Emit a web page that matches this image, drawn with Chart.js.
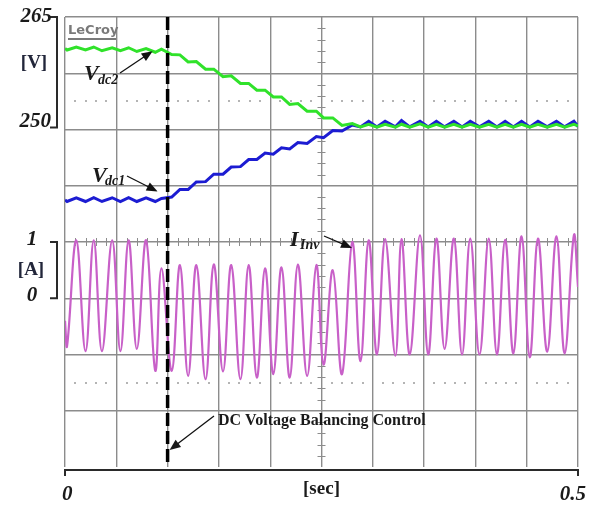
<!DOCTYPE html>
<html>
<head>
<meta charset="utf-8">
<script src="https://cdn.jsdelivr.net/npm/chart.js@4/dist/chart.umd.min.js"></script>
<style>
  html, body { margin: 0; padding: 0; background: #fff; }
  #wrap { width: 590px; height: 505px; position: relative; }
</style>
</head>
<body>
<div id="wrap"><canvas id="scope"></canvas></div>
<script>
// time [s] of each sample (current extremes)
const t = [0, 0.002, 0.011, 0.020, 0.028, 0.036, 0.046, 0.054, 0.062, 0.070, 0.079,
  0.088, 0.094, 0.104, 0.112, 0.120, 0.128, 0.137, 0.145, 0.154, 0.162,
  0.171, 0.179, 0.187, 0.195, 0.203, 0.211, 0.219, 0.227, 0.236, 0.245,
  0.252, 0.261, 0.270, 0.280, 0.288, 0.296, 0.304, 0.312, 0.322, 0.328,
  0.336, 0.346, 0.354, 0.362, 0.370, 0.379, 0.387, 0.395, 0.404, 0.413,
  0.421, 0.429, 0.437, 0.445, 0.453, 0.461, 0.470, 0.479, 0.487, 0.496, 0.5];

// inverter current [A]
const iInv = [-0.4, -0.85, 1.03, -0.94, 1.03, -0.94, 1.03, -0.94, 1.03, -0.9, 1.03,
  -1.29, 0.53, -1.29, 0.59, -1.38, 0.59, -1.44, 0.6, -1.3, 0.59,
  -1.44, 0.59, -1.41, 0.53, -1.35, 0.55, -1.41, 0.6, -1.38, 0.59,
  -1.18, 0.5, -1.35, 1.0, -1.12, 1.03, -1.0, 1.05, -1.02, 1.05,
  -1.0, 1.12, -1.0, 1.06, -0.9, 1.06, -1.0, 1.06, -1.0, 1.06,
  -1.0, 1.04, -0.98, 1.1, -1.05, 1.06, -0.95, 1.1, -0.98, 1.12, 0.2];

// dc link voltages [V]
const vdc2 = [260.8, 260.6, 261.0, 260.6, 261.0, 260.5, 260.9, 260.5, 260.9, 260.4, 260.8,
  260.3, 260.7, 260.0, 259.95, 259.0, 259.05, 258.05, 258.05, 257.05, 257.15,
  256.15, 256.15, 255.25, 255.25, 254.35, 254.35, 253.35, 253.45, 252.45, 252.45,
  251.55, 251.55, 250.55, 250.8, 250.35, 250.7, 250.3, 250.7, 250.3, 250.7,
  250.3, 250.75, 250.3, 250.7, 250.3, 250.7, 250.3, 250.7, 250.3, 250.7,
  250.3, 250.7, 250.3, 250.7, 250.3, 250.7, 250.3, 250.7, 250.3, 250.7, 250.5];

const vdc1 = [240.6, 240.4, 240.9, 240.4, 240.9, 240.4, 240.9, 240.4, 240.9, 240.4, 240.9,
  240.4, 240.8, 241.0, 242.0, 242.0, 243.0, 243.05, 244.05, 244.05, 245.0,
  245.05, 246.0, 246.0, 246.85, 246.7, 247.55, 247.4, 248.25, 248.15, 249.05,
  248.9, 249.85, 249.8, 250.6, 250.35, 251.1, 250.35, 251.1, 250.35, 251.2,
  250.35, 251.1, 250.35, 251.1, 250.35, 251.1, 250.35, 251.1, 250.35, 251.1,
  250.35, 251.1, 250.35, 251.1, 250.35, 251.1, 250.35, 251.1, 250.35, 251.1, 250.4];

// axis labels
const voltTicks = [265, 250];
const currTicks = [1, 0];
const timeTicks = [0, 0.5];
const tControl = 0.1;  // balancing control switched on

const GRID = '#8c8c8c';
const SERIF = '"Liberation Serif", "DejaVu Serif", serif';

function arrow(ctx, x1, y1, x2, y2) {
    const a = Math.atan2(y2 - y1, x2 - x1);
    ctx.beginPath();
    ctx.moveTo(x1, y1);
    ctx.lineTo(x2 - 6 * Math.cos(a), y2 - 6 * Math.sin(a));
    ctx.stroke();
    ctx.beginPath();
    ctx.moveTo(x2, y2);
    ctx.lineTo(x2 - 11 * Math.cos(a) + 4.5 * Math.sin(a), y2 - 11 * Math.sin(a) - 4.5 * Math.cos(a));
    ctx.lineTo(x2 - 11 * Math.cos(a) - 4.5 * Math.sin(a), y2 - 11 * Math.sin(a) + 4.5 * Math.cos(a));
    ctx.closePath();
    ctx.fill();
}

const scopeDecor = {
    id: 'scopeDecor',
    beforeDatasetsDraw(chart) {
        const { ctx, chartArea: a, scales } = chart;
        const xs = scales.x, yv = scales.yV;
        ctx.save();
        // dotted reference lines
        ctx.fillStyle = '#b4b4b4';
        [253.75, 216.25].forEach(v => {
            const y = Math.round(yv.getPixelForValue(v));
            for (let k = 1; k < 50; k++) {
                if (k % 5 === 0) continue;
                ctx.fillRect(Math.round(xs.getPixelForValue(k * 0.01)) - 1, y - 1, 2, 2);
            }
        });
        // minor ticks on the centre cross
        ctx.strokeStyle = GRID;
        ctx.lineWidth = 1;
        const cx = xs.getPixelForValue(0.25), cy = yv.getPixelForValue(235);
        ctx.beginPath();
        for (let k = 1; k < 40; k++) {
            if (k % 5 === 0) continue;
            const y = Math.round(yv.getPixelForValue(205 + k * 1.5)) + 0.5;
            ctx.moveTo(cx - 4, y); ctx.lineTo(cx + 4, y);
        }
        for (let k = 1; k < 50; k++) {
            if (k % 5 === 0) continue;
            const x = Math.round(xs.getPixelForValue(k * 0.01)) + 0.5;
            ctx.moveTo(x, cy - 4); ctx.lineTo(x, cy + 4);
        }
        ctx.stroke();
        // LeCroy logo
        ctx.fillStyle = '#7a7a7a';
        ctx.font = 'bold 13px "DejaVu Sans", sans-serif';
        ctx.textAlign = 'left';
        ctx.textBaseline = 'alphabetic';
        ctx.fillText('LeCroy', a.left + 3, a.top + 17);
        ctx.fillRect(a.left + 3, a.top + 21, 48, 2);
        ctx.restore();
    },
    afterDatasetsDraw(chart) {
        const { ctx, chartArea: a, scales } = chart;
        const xs = scales.x, yv = scales.yV, yi = scales.yI;
        ctx.save();

        // balancing control instant
        const xc = xs.getPixelForValue(tControl);
        ctx.strokeStyle = '#000';
        ctx.lineWidth = 3.5;
        ctx.setLineDash([13, 5]);
        ctx.beginPath();
        ctx.moveTo(xc, a.top);
        ctx.lineTo(xc, a.bottom - 3);
        ctx.stroke();
        ctx.setLineDash([]);

        // brackets
        ctx.strokeStyle = '#2a2a2a';
        ctx.lineWidth = 2;
        const bx = a.left - 8;
        const yTop = yv.getPixelForValue(voltTicks[0]), yBot = yv.getPixelForValue(voltTicks[1]) - 2;
        ctx.beginPath();
        ctx.moveTo(bx - 7, yTop); ctx.lineTo(bx, yTop); ctx.lineTo(bx, yBot); ctx.lineTo(bx - 7, yBot);
        const iTop = yi.getPixelForValue(currTicks[0]), iBot = yi.getPixelForValue(currTicks[1]);
        ctx.moveTo(bx - 7, iTop); ctx.lineTo(bx, iTop); ctx.lineTo(bx, iBot); ctx.lineTo(bx - 7, iBot);
        const x0 = xs.getPixelForValue(timeTicks[0]), x1 = xs.getPixelForValue(timeTicks[1]);
        const by = a.bottom + 3;
        ctx.moveTo(x0, by + 6); ctx.lineTo(x0, by); ctx.lineTo(x1, by); ctx.lineTo(x1, by + 6);
        ctx.stroke();

        // axis labels
        ctx.fillStyle = '#1a1a1a';
        ctx.textBaseline = 'alphabetic';
        ctx.font = 'italic bold 21px ' + SERIF;
        ctx.textAlign = 'right';
        ctx.fillText(String(voltTicks[0]), 52, yTop + 5);
        ctx.fillText(String(voltTicks[1]), 51, yBot - 1);
        ctx.textAlign = 'center';
        ctx.fillText(String(currTicks[0]), 32, iTop + 3);
        ctx.fillText(String(currTicks[1]), 32, iBot + 3);
        ctx.textAlign = 'left';
        ctx.fillText(String(timeTicks[0]), x0 - 3, 500);
        ctx.textAlign = 'right';
        ctx.fillText(String(timeTicks[1]), x1 + 8, 500);

        ctx.font = 'bold 19px ' + SERIF;
        ctx.fillStyle = '#22263a';
        ctx.textAlign = 'center';
        ctx.fillText('[V]', 34, 68);
        ctx.fillText('[A]', 31, 275);
        ctx.fillStyle = '#1a1a1a';
        ctx.fillText('[sec]', xs.getPixelForValue(0.25), 494);

        // trace names
        ctx.textAlign = 'left';
        ctx.font = 'italic bold 22px ' + SERIF;
        ctx.fillText('V', 84, 80);
        ctx.fillText('V', 92, 182);
        ctx.fillText('I', 290, 246);
        ctx.font = 'italic bold 14px ' + SERIF;
        ctx.fillText('dc2', 98, 84);
        ctx.fillText('dc1', 105, 185);
        ctx.fillText('Inv', 300, 249);

        ctx.strokeStyle = '#111';
        ctx.fillStyle = '#111';
        ctx.lineWidth = 1.3;
        arrow(ctx, 120, 73, xc - 15, yv.getPixelForValue(vdc2[12]) + 2);
        arrow(ctx, 127, 176, xc - 10, yv.getPixelForValue(vdc1[12]) - 7);
        arrow(ctx, 324, 236, 352, 248);

        ctx.fillStyle = '#1a1a1a';
        ctx.font = 'bold 16px ' + SERIF;
        ctx.fillText('DC Voltage Balancing Control', 218, 425);
        arrow(ctx, 214, 416, xc + 2, 450);

        ctx.restore();
    }
};

const pts = ys => t.map((x, i) => ({ x: x, y: ys[i] }));

new Chart(document.getElementById('scope').getContext('2d'), {
    type: 'line',
    data: {
        datasets: [{
            label: 'Vdc2',
            data: pts(vdc2),
            yAxisID: 'yV',
            borderColor: '#30e22a',
            borderWidth: 3,
            pointRadius: 0,
            tension: 0,
            order: 1
        }, {
            label: 'Vdc1',
            data: pts(vdc1),
            yAxisID: 'yV',
            borderColor: '#1c1cd2',
            borderWidth: 3,
            pointRadius: 0,
            tension: 0,
            order: 2
        }, {
            label: 'IInv',
            data: pts(iInv),
            yAxisID: 'yI',
            borderColor: '#c860c8',
            borderWidth: 2.2,
            pointRadius: 0,
            tension: 0.4,
            order: 3
        }]
    },
    options: {
        animation: false,
        responsive: true,
        maintainAspectRatio: false,
        layout: { padding: { left: 65, right: 12, top: 17, bottom: 38 } },
        plugins: { legend: { display: false }, tooltip: { enabled: false } },
        scales: {
            x: {
                type: 'linear', min: 0, max: 0.5,
                ticks: { display: false, stepSize: 0.05 },
                grid: { color: GRID, lineWidth: 1.4, drawTicks: false },
                border: { display: false }
            },
            yV: {
                position: 'left', min: 205, max: 265,
                ticks: { display: false, stepSize: 7.5 },
                // bottom division line is hidden by the time bracket
                grid: { color: c => c.index === 0 ? 'rgba(0,0,0,0)' : GRID, lineWidth: 1.4, drawTicks: false },
                border: { display: false }
            },
            yI: { display: false, min: -3, max: 5 }
        }
    },
    plugins: [scopeDecor]
});
</script>
</body>
</html>
